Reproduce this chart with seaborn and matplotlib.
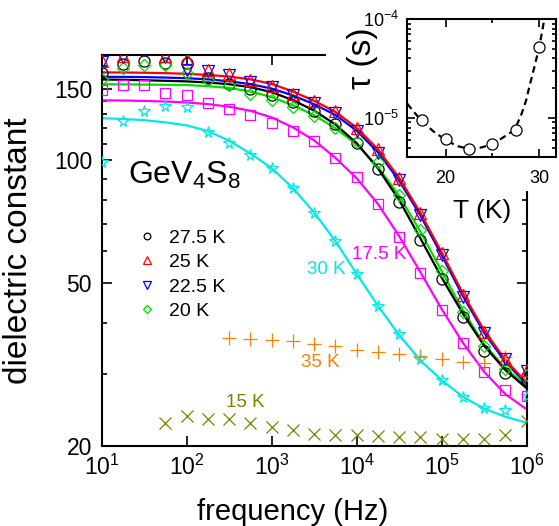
import numpy as np
import matplotlib
matplotlib.use('Agg')
import matplotlib.pyplot as plt
import matplotlib.ticker as mticker
from matplotlib.patches import Rectangle
import seaborn as sns

sns.set_style('ticks', {'axes.edgecolor': 'black', 'xtick.color': 'black',
                        'ytick.color': 'black', 'text.color': 'black',
                        'axes.labelcolor': 'black'})
plt.rcParams['font.family'] = ['Liberation Sans', 'DejaVu Sans']
plt.rcParams['mathtext.fontset'] = 'custom'
plt.rcParams['mathtext.rm'] = 'Liberation Sans'
plt.rcParams['mathtext.it'] = 'Liberation Sans:italic'
plt.rcParams['mathtext.bf'] = 'Liberation Sans:bold'

# measurement frequencies: quarter decades from 10^1 to 10^6 Hz
log_f = [1.0, 1.25, 1.5, 1.75, 2.0, 2.25, 2.5, 2.75, 3.0, 3.25, 3.5,
         3.75, 4.0, 4.25, 4.5, 4.75, 5.0, 5.25, 5.5, 5.75, 6.0]
freq = 10 ** np.array(log_f)

# measured dielectric constant
eps_275 = [164, 172.6, 175, 173.6, 173.4, 159.2, 154.2, 149.3, 145, 139, 132.2,
           122.6, 110.3, 95.4, 79.2, 63.9, 51.3, 41.3, 34.2, 30.2, 29.1]
eps_25 = [175, 180, 188, 180, 177.6, 167, 162.6, 157.2, 152.2, 145.8, 139.6,
          132.2, 120.3, 106.4, 90.7, 74.3, 59.3, 46.9, 38.1, 32.7, 30.7]
eps_225 = [174, 179, 186, 179, 167, 166, 161.5, 156, 151, 144.5, 138,
           130.5, 117.8, 104.3, 89.5, 73.5, 58.7, 46.4, 37.9, 32.6, 30.6]
eps_20 = [158, 168, 171, 171, 164, 157, 153, 145.8, 141, 135.2, 128.2,
          120.2, 111, 99, 82.5, 67.4, 53.5, 42.5, 35.2, 30.9, 29.8]
eps_175 = [149, 152.8, 153, 146.6, 145, 138.6, 133.9, 129, 123.7, 118, 111.5,
           101.5, 91, 78.3, 65.1, 53, 43.1, 35.7, 30.4, 27.5, 26.5]
eps_30 = [99, 124.9, 131.9, 136, 135.2, 117.4, 110.5, 103.3, 95.8, 85.6, 74.4,
          63.4, 52.7, 44.1, 37.6, 32.6, 29.1, 26.4, 24.8, 24.5, 26.5]
eps_35 = [36.7, 36.5, 36.3, 36.2, 35.6, 35.2, 34.3, 33.9, 33.6, 33.3, 32.6,
          32.1, 32.0, 33.0]          # from 10^2.5 to 10^5.75 Hz
eps_15 = [22.8, 23.7, 23.3, 23.3, 22.8, 22.3, 21.9, 21.4, 21.3, 21.3, 21.2,
          21.0, 21.0, 20.8, 20.8, 20.8, 21.3, 23.0]   # from 10^1.75 Hz

# fit curves (read at the same frequencies)
fit_275 = [157.9, 157.6, 157.2, 156.7, 156.2, 155.2, 153.7, 151.2, 147, 140.5, 132.5,
           122.5, 110.3, 95.7, 80.0, 64.5, 51.7, 42.2, 35.2, 30.7, 27.7]
fit_25 = [164.3, 164.2, 164, 163.6, 163, 162, 160.5, 158, 154, 147.5, 140,
          131.5, 120.3, 106.5, 90.7, 74.5, 59.6, 47.3, 38.4, 32.5, 28.6]
fit_225 = [160.3, 160.2, 160, 159.6, 159, 158, 156.3, 153.8, 150, 144.3, 137.3,
           129.3, 118.3, 104.8, 89.3, 73.4, 58.7, 46.6, 37.9, 32.1, 28.4]
fit_20 = [153.7, 153.6, 153.4, 153.2, 153, 152, 150.5, 147.5, 143, 136.5, 129,
          120, 109.5, 96.5, 82, 67, 53.6, 43, 35.5, 31, 28.1]
fit_175 = [140.4, 140.2, 139.9, 139.4, 138.7, 137.4, 135.4, 132.3, 127.5, 120.5, 112,
           101.5, 90.5, 78.3, 65.3, 53.3, 43.3, 35.8, 30.4, 26.8, 24.6]
fit_30 = [126.9, 126.4, 125.5, 124, 121.9, 118, 111.8, 104, 95.8, 85.6, 74.6,
          63.5, 52.8, 44.1, 37.4, 32.4, 29.0, 26.4, 24.7, 23.6, 22.8]

# inset: relaxation time vs temperature
T_tau = [17.5, 20, 22.5, 25, 27.5, 30]
tau = [9.6e-6, 6.1e-6, 4.9e-6, 5.4e-6, 7.5e-6, 5.2e-5]
T_curve = [15.9, 17.3, 18.7, 20.0, 21.2, 22.4, 23.7, 25.0, 26.2, 27.4,
           28.15, 28.6, 29.0, 29.5, 30.0, 30.3, 30.55]
tau_curve = [1.39e-5, 9.6e-6, 7.3e-6, 6.0e-6, 5.2e-6, 4.9e-6, 5.0e-6, 5.4e-6, 6.4e-6, 7.6e-6,
             1.12e-5, 1.5e-5, 2.16e-5, 3.3e-5, 5.2e-5, 7.3e-5, 1.0e-4]

c_cyan = '#00e8e8'
c_mag = '#ff00ff'
c_green = '#00dd00'
c_orange = '#ff8000'
c_olive = '#808000'

fig = plt.figure(figsize=(5.59, 5.26), dpi=100)
ax = fig.add_axes([0.182, 0.152, 0.760, 0.743])

# fit lines
for vals, c in [(fit_30, c_cyan), (fit_175, c_mag), (fit_20, c_green),
                (fit_275, 'black'), (fit_225, 'blue'), (fit_25, 'red')]:
    sns.lineplot(x=freq, y=vals, color=c, lw=1.6, ax=ax, zorder=2)


def mark(x, y, m, c, ms, label=None):
    sns.lineplot(x=x, y=y, marker=m, linestyle='', color=c, markersize=ms,
                 markerfacecolor='none', markeredgecolor=c, markeredgewidth=0.9,
                 label=label, ax=ax, zorder=3)


mark(freq[3:], eps_15, 'x', c_olive, 8)
mark(freq[6:20], eps_35, '+', c_orange, 10)
mark(freq, eps_30, '*', c_cyan, 8.5)
mark(freq, eps_175, 's', c_mag, 7.5)
mark(freq, eps_275, 'o', 'black', 8, '27.5 K')
mark(freq, eps_20, 'D', c_green, 6.5, '20 K')
mark(freq, eps_225, 'v', 'blue', 8.5, '22.5 K')
mark(freq, eps_25, '^', 'red', 8.5, '25 K')

ax.set_xscale('log')
ax.set_yscale('log')
ax.set_xlim(10, 1e6)
ax.set_ylim(20, 181)
ax.xaxis.set_major_locator(mticker.LogLocator(base=10, numticks=10))
ax.xaxis.set_minor_locator(mticker.NullLocator())
ax.yaxis.set_major_locator(mticker.FixedLocator([20, 50, 100, 150]))
ax.yaxis.set_major_formatter(mticker.StrMethodFormatter('{x:.0f}'))
ax.yaxis.set_minor_locator(mticker.FixedLocator(
    [30, 40, 60, 70, 80, 90, 110, 120, 130, 140, 160, 170, 180]))
ax.yaxis.set_minor_formatter(mticker.NullFormatter())
ax.tick_params(which='both', direction='in', top=True, right=True, width=1.2)
ax.tick_params(which='major', length=7, labelsize=16.5, pad=6)
ax.tick_params(axis='y', which='major', pad=7)
ax.tick_params(which='minor', length=3.5)
for s in ax.spines.values():
    s.set_linewidth(1.5)
ax.set_xlabel('frequency (Hz)', fontsize=21)
ax.xaxis.set_label_coords(0.45, -0.132)
ax.set_ylabel('dielectric constant', fontsize=24, labelpad=14)

ax.text(20.4, 87.8, r'GeV$_4$S$_8$', fontsize=23, va='baseline', ha='left')
ax.text(4350, 54.0, '30 K', color=c_cyan, fontsize=13.5, ha='center', va='center')
ax.text(18300, 58.8, '17.5 K', color=c_mag, fontsize=13.5, ha='center', va='center')
ax.text(3700, 32.1, '35 K', color=c_orange, fontsize=13.5, ha='center', va='center')
ax.text(485, 25.5, '15 K', color=c_olive, fontsize=13.5, ha='center', va='center')

h, l = ax.get_legend_handles_labels()
order = [l.index(s) for s in ['27.5 K', '25 K', '22.5 K', '20 K']]
ax.legend([h[i] for i in order], [l[i] for i in order], loc='upper left',
          bbox_to_anchor=(0.085, 0.555), frameon=False,
          fontsize=14, markerscale=0.6, handlelength=0.9, handletextpad=0.7,
          labelspacing=0.35, borderaxespad=0, borderpad=0)

# white areas behind inset labels
fig.add_artist(Rectangle((326 / 559, 1 - 64 / 526), (410 - 326) / 559, 64 / 526,
                         transform=fig.transFigure, facecolor='white',
                         edgecolor='none', zorder=1))
fig.add_artist(Rectangle((465 / 559, 1 - 191 / 526), (559 - 465) / 559, 40 / 526,
                         transform=fig.transFigure, facecolor='white',
                         edgecolor='none', zorder=1))

# inset
axi = fig.add_axes([407.3 / 559, 1 - 157.3 / 526, (556 - 407.3) / 559, (157.3 - 19) / 526])
axi.set_zorder(5)
sns.lineplot(x=T_curve, y=tau_curve, color='black', lw=1.6, linestyle=(0, (3, 2)),
             ax=axi, zorder=2)
sns.lineplot(x=T_tau, y=tau, marker='o', linestyle='', color='black', markersize=8,
             markerfacecolor='white', markeredgecolor='black', markeredgewidth=0.9,
             ax=axi, zorder=3)
axi.set_yscale('log')
axi.set_xlim(15.9, 31.8)
axi.set_ylim(4e-6, 1e-4)
axi.xaxis.set_major_locator(mticker.FixedLocator([20, 30]))
axi.xaxis.set_minor_locator(mticker.FixedLocator([25]))
axi.yaxis.set_major_locator(mticker.LogLocator(base=10, numticks=5))
axi.yaxis.set_minor_locator(mticker.LogLocator(base=10, subs=np.arange(2, 10), numticks=20))
axi.yaxis.set_minor_formatter(mticker.NullFormatter())
axi.tick_params(which='both', direction='in', top=True, right=True, width=1.2)
axi.tick_params(which='major', length=6, labelsize=13, pad=6)
axi.tick_params(which='minor', length=3)
axi.tick_params(axis='x', which='major', pad=9)
for s in axi.spines.values():
    s.set_linewidth(1.5)
axi.set_xlabel('T (K)', fontsize=19)
axi.xaxis.set_label_coords(0.5, -0.3)
axi.set_ylabel('τ (s)', fontsize=24)
axi.yaxis.set_label_coords(-0.2, 0.72)

fig.savefig('out.png', dpi=100)
